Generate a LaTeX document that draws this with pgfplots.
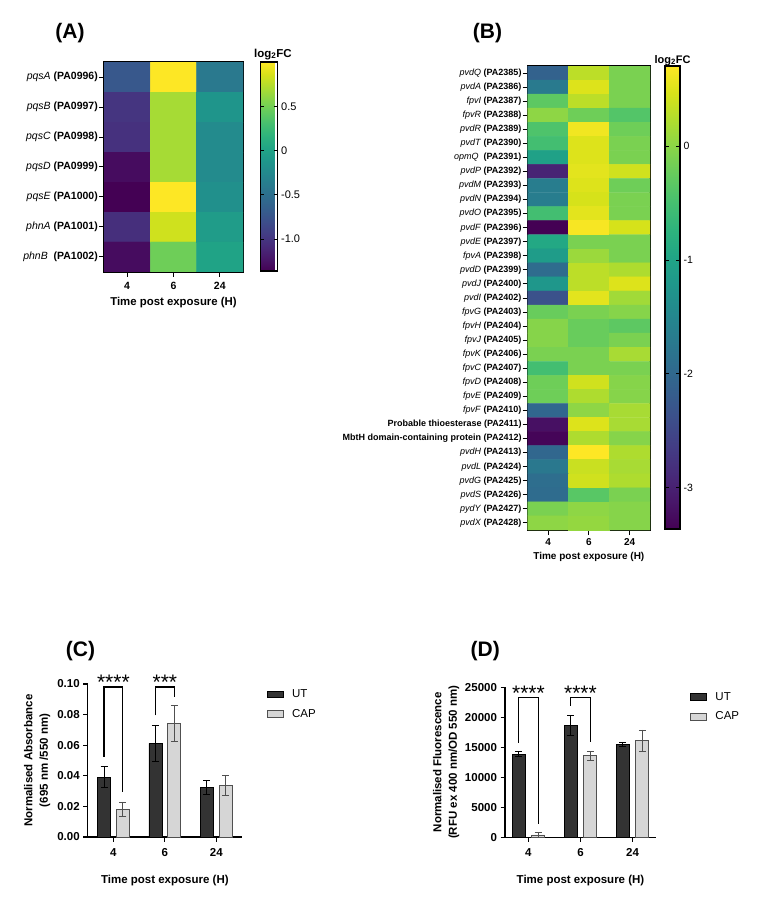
\documentclass[border=0pt]{standalone}
\usepackage{fontspec}
\setmainfont{Liberation Sans}
\usepackage{pgfplots}
\usepackage{pgfplotstable}
\pgfplotsset{compat=1.18}
\definecolor{utcol}{HTML}{333333}
\definecolor{capcol}{HTML}{D6D6D6}
\definecolor{capedge}{HTML}{505050}

\pgfplotstableread{
x y v
0 0 -0.72
1 0 1.00
2 0 -0.41
0 1 -1.00
1 1 0.69
2 1 -0.13
0 2 -1.03
1 2 0.69
2 2 -0.23
0 3 -1.29
1 3 0.69
2 3 -0.23
0 4 -1.36
1 4 1.00
2 4 -0.18
0 5 -1.05
1 5 0.83
2 5 -0.06
0 6 -1.29
1 6 0.48
2 6 0.01
}\heatA

\pgfplotstableread{
x y v
0 0 -2.10
1 0 0.30
2 0 -0.11
0 1 -1.70
1 1 0.50
2 1 -0.11
0 2 -0.31
1 2 0.30
2 2 -0.11
0 3 0.02
1 3 -0.19
2 3 -0.39
0 4 -0.43
1 4 0.63
2 4 -0.19
0 5 -0.52
1 5 0.50
2 5 -0.11
0 6 -1.04
1 6 0.50
2 6 -0.11
0 7 -2.96
1 7 0.54
2 7 0.42
0 8 -1.66
1 8 0.50
2 8 -0.19
0 9 -1.66
1 9 0.46
2 9 -0.11
0 10 -0.52
1 10 0.54
2 10 -0.11
0 11 -3.37
1 11 0.67
2 11 0.46
0 12 -0.92
1 12 -0.11
2 12 -0.11
0 13 -1.13
1 13 0.10
2 13 -0.11
0 14 -1.94
1 14 0.30
2 14 0.22
0 15 -1.21
1 15 0.30
2 15 0.50
0 16 -2.35
1 16 0.54
2 16 0.14
0 17 -0.23
1 17 -0.11
2 17 -0.03
0 18 -0.03
1 18 -0.23
2 18 -0.31
0 19 -0.03
1 19 -0.23
2 19 -0.11
0 20 -0.11
1 20 -0.11
2 20 0.18
0 21 -0.52
1 21 -0.11
2 21 -0.11
0 22 -0.19
1 22 0.42
2 22 -0.03
0 23 -0.19
1 23 0.22
2 23 -0.03
0 24 -2.02
1 24 0.02
2 24 0.18
0 25 -3.20
1 25 0.50
2 25 0.18
0 26 -3.32
1 26 0.22
2 26 -0.03
0 27 -2.02
1 27 0.71
2 27 0.22
0 28 -1.74
1 28 0.38
2 28 0.18
0 29 -1.90
1 29 0.42
2 29 0.22
0 30 -1.94
1 30 -0.35
2 30 -0.11
0 31 -0.11
1 31 0.02
2 31 -0.03
0 32 0.02
1 32 0.06
2 32 -0.03
}\heatB

\pgfplotstableread{
x UT eUT CAP eCAP
0 0.0392 0.0066 0.0183 0.0046
1 0.0612 0.0120 0.0742 0.0116
2 0.0322 0.0045 0.0338 0.0066
}\dataC

\pgfplotstableread{
x UT eUT CAP eCAP
0 13833 420 390 390
1 18611 1700 13611 720
2 15444 340 16111 1780
}\dataD

\pgfplotsset{
  heat/.style={scale only axis, enlargelimits=false, y dir=reverse,
    colormap/viridis, xmin=-0.5, xmax=2.5,
    xtick={0,1,2}, xticklabels={4,6,24},
    xtick pos=bottom, ytick pos=left, tick align=outside, major tick length=5pt,
    tick style={line width=1pt, black}, axis line style={line width=1.6pt},
    yticklabel style={inner sep=1pt}},
  boxlegend/.style={legend image code/.code={\draw[##1, line width=0.8pt] (0pt,-3.3pt) rectangle (16pt,3.3pt);}},
  bars/.style={scale only axis, ybar, bar width=13pt,
    axis x line*=bottom, axis y line*=left,
    axis line style={line width=1.5pt},
    tick style={line width=1.2pt, black}, tick align=outside, major tick length=4.5pt,
    xtick={0,1,2}, xticklabels={4,6,24},
    /pgf/number format/assume math mode=true,
    tick label style={font=\bfseries\fontsize{11.5}{13}\selectfont},
    xticklabel style={yshift=-3.5pt},
    clip=false,
    xlabel={Time post exposure (H)},
    label style={font=\bfseries\fontsize{11.5}{15.5}\selectfont, align=center},
    legend style={draw=none, fill=none, inner sep=0pt, row sep=7pt, column sep=7pt,
      font=\fontsize{11.5}{13}\selectfont, nodes={inner sep=1.5pt}},
    legend cell align=left},
}

\begin{document}
\begin{tikzpicture}[x=1pt,y=1pt]
\path[use as bounding box] (0pt,0pt) rectangle (762pt,900pt);

% ---------------- (A) ----------------
\begin{axis}[heat, at={(104pt,628pt)}, anchor=south west, width=139pt, height=210pt,
  ymin=-0.5, ymax=6.5, ytick={0,...,6},
  yticklabels={{\textit{pqsA} \textbf{(PA0996)}},{\textit{pqsB} \textbf{(PA0997)}},{\textit{pqsC} \textbf{(PA0998)}},{\textit{pqsD} \textbf{(PA0999)}},{\textit{pqsE} \textbf{(PA1000)}},{\textit{phnA} \textbf{(PA1001)}},{\textit{phnB}\ \ \textbf{(PA1002)}}},
  yticklabel style={font=\fontsize{10.5}{12}\selectfont},
  xticklabel style={font=\bfseries\fontsize{10.5}{12}\selectfont, yshift=-2pt},
  xlabel={Time post exposure (H)},
  xlabel style={font=\bfseries\fontsize{11.4}{13}\selectfont, at={(axis description cs:0.5,-0.146)}, anchor=center},
  point meta min=-1.36, point meta max=1.0,
  colorbar, colorbar shift/.style={xshift=17.3pt},
  colorbar style={at={(parent axis.north east)}, anchor=north west,
    scale only axis, width=17.3pt, height=209pt,
    ytick={-1,-0.5,0,0.5}, yticklabels={-1.0,-0.5,0,0.5},
    yticklabel pos=right, ytick pos=both, tick align=inside, major tick length=4pt,
    tick style={line width=1pt, black}, axis line style={line width=1.2pt},
    yticklabel style={font=\fontsize{11}{13}\selectfont},
    title={log\textsubscript{2}FC},
    title style={font=\bfseries\fontsize{11.5}{13}\selectfont, xshift=4pt, yshift=-7pt}}
]
\addplot[matrix plot*, mesh/cols=3, point meta=explicit] table[x=x, y=y, meta=v] {\heatA};
\end{axis}
\node[font=\bfseries\fontsize{21}{24}\selectfont] at (70pt,867pt) {(A)};

% ---------------- (B) ----------------
\begin{axis}[heat, at={(527.7pt,370pt)}, anchor=south west, width=122.3pt, height=464pt,
  ymin=-0.5, ymax=32.5, ytick={0,...,32},
  yticklabels={{\textit{pvdQ} \textbf{(PA2385)}},{\textit{pvdA} \textbf{(PA2386)}},{\textit{fpvI} \textbf{(PA2387)}},{\textit{fpvR} \textbf{(PA2388)}},{\textit{pvdR} \textbf{(PA2389)}},{\textit{pvdT} \textbf{(PA2390)}},{\textit{opmQ}\ \ \textbf{(PA2391)}},{\textit{pvdP} \textbf{(PA2392)}},{\textit{pvdM} \textbf{(PA2393)}},{\textit{pvdN} \textbf{(PA2394)}},{\textit{pvdO} \textbf{(PA2395)}},{\textit{pvdF} \textbf{(PA2396)}},{\textit{pvdE} \textbf{(PA2397)}},{\textit{fpvA} \textbf{(PA2398)}},{\textit{pvdD} \textbf{(PA2399)}},{\textit{pvdJ} \textbf{(PA2400)}},{\textit{pvdI} \textbf{(PA2402)}},{\textit{fpvG} \textbf{(PA2403)}},{\textit{fpvH} \textbf{(PA2404)}},{\textit{fpvJ} \textbf{(PA2405)}},{\textit{fpvK} \textbf{(PA2406)}},{\textit{fpvC} \textbf{(PA2407)}},{\textit{fpvD} \textbf{(PA2408)}},{\textit{fpvE} \textbf{(PA2409)}},{\textit{fpvF} \textbf{(PA2410)}},{\textbf{Probable thioesterase (PA2411)}},{\textbf{MbtH domain-containing protein (PA2412)}},{\textit{pvdH} \textbf{(PA2413)}},{\textit{pvdL} \textbf{(PA2424)}},{\textit{pvdG} \textbf{(PA2425)}},{\textit{pvdS} \textbf{(PA2426)}},{\textit{pydY} \textbf{(PA2427)}},{\textit{pvdX} \textbf{(PA2428)}}},
  yticklabel style={font=\fontsize{9}{10}\selectfont},
  xticklabel style={font=\bfseries\fontsize{10}{12}\selectfont},
  xlabel={Time post exposure (H)},
  xlabel style={font=\bfseries\fontsize{10}{12}\selectfont, at={(axis description cs:0.5,-0.0575)}, anchor=center},
  point meta min=-3.365, point meta max=0.707,
  colorbar, colorbar shift/.style={xshift=15pt},
  colorbar style={at={(parent axis.north east)}, anchor=north west,
    scale only axis, width=15pt, height=463pt,
    ytick={-3,-2,-1,0}, yticklabels={-3,-2,-1,0},
    yticklabel pos=right, ytick pos=both, tick align=inside, major tick length=4pt,
    tick style={line width=1pt, black}, axis line style={line width=1.2pt},
    yticklabel style={font=\fontsize{10.5}{12}\selectfont},
    title={log\textsubscript{2}FC},
    title style={font=\bfseries\fontsize{11}{13}\selectfont, yshift=-9pt}}
]
\addplot[matrix plot*, mesh/cols=3, point meta=explicit] table[x=x, y=y, meta=v] {\heatB};
\end{axis}
\node[font=\bfseries\fontsize{21}{24}\selectfont] at (487.5pt,867pt) {(B)};

% ---------------- (C) ----------------
\begin{axis}[bars, at={(87.7pt,63pt)}, anchor=south west, width=154.3pt, height=153pt,
  ybar=5.8pt, xmin=-0.5, xmax=2.5, ymin=0, ymax=0.1,
  ytick={0,0.02,0.04,0.06,0.08,0.10},
  yticklabel style={/pgf/number format/.cd, fixed, fixed zerofill, precision=2},
  ylabel={Normalised Absorbance\\(695 nm /550 nm)},
  ylabel style={at={(axis description cs:-0.327,0.5)}, anchor=center},
  xlabel style={at={(axis description cs:0.5,-0.285)}, anchor=center},
  legend style={at={(axis description cs:1.16,0.974)}, anchor=north west}
]
\addplot[fill=utcol, draw=black, line width=0.8pt, boxlegend,
  error bars/.cd, y dir=both, y explicit,
  error bar style={line width=0.9pt, black},
  error mark options={rotate=90, mark size=3.5pt, line width=0.9pt, black}]
  table[x=x, y=UT, y error=eUT] {\dataC};
\addplot[fill=capcol, draw=capedge, line width=0.8pt, boxlegend,
  error bars/.cd, y dir=both, y explicit,
  error bar style={line width=0.9pt, capedge},
  error mark options={rotate=90, mark size=3.5pt, line width=0.9pt, capedge}]
  table[x=x, y=CAP, y error=eCAP] {\dataC};
\legend{UT,CAP}
\draw[line width=1.3pt] (axis cs:-0.183,0.0525) |- (axis cs:0.183,0.098) -- (axis cs:0.183,0.0294);
\draw[line width=1.3pt] (axis cs:0.817,0.0795) |- (axis cs:1.183,0.098) -- (axis cs:1.183,0.0917);
\node[font=\fontsize{21}{21}\selectfont, anchor=base] at (axis cs:0,0.0962) {****};
\node[font=\fontsize{21}{21}\selectfont, anchor=base] at (axis cs:1,0.0962) {***};
\end{axis}
\node[font=\bfseries\fontsize{21}{24}\selectfont] at (80.5pt,249pt) {(C)};

% ---------------- (D) ----------------
\begin{axis}[bars, at={(505pt,62.7pt)}, anchor=south west, width=151pt, height=150pt,
  ybar=6.5pt, xmin=-0.45, xmax=2.45, ymin=0, ymax=25000,
  ytick={0,5000,10000,15000,20000,25000}, scaled y ticks=false,
  yticklabel style={/pgf/number format/.cd, fixed, set thousands separator={}},
  ylabel={Normalised Fluorescence\\(RFU ex 400 nm/OD 550 nm)},
  ylabel style={at={(axis description cs:-0.389,0.5)}, anchor=center},
  xlabel style={at={(axis description cs:0.5,-0.29)}, anchor=center},
  legend style={at={(axis description cs:1.225,0.977)}, anchor=north west}
]
\addplot[fill=utcol, draw=black, line width=0.8pt, boxlegend,
  error bars/.cd, y dir=both, y explicit,
  error bar style={line width=0.9pt, black},
  error mark options={rotate=90, mark size=3.5pt, line width=0.9pt, black}]
  table[x=x, y=UT, y error=eUT] {\dataD};
\addplot[fill=capcol, draw=capedge, line width=0.8pt, boxlegend,
  error bars/.cd, y dir=both, y explicit,
  error bar style={line width=0.9pt, capedge},
  error mark options={rotate=90, mark size=3.5pt, line width=0.9pt, capedge}]
  table[x=x, y=CAP, y error=eCAP] {\dataD};
\legend{UT,CAP}
\draw[line width=1.3pt] (axis cs:-0.187,15780) |- (axis cs:0.187,23333) -- (axis cs:0.187,2222);
\draw[line width=1.3pt] (axis cs:0.813,21890) |- (axis cs:1.187,23333) -- (axis cs:1.187,15830);
\node[font=\fontsize{21}{21}\selectfont, anchor=base] at (axis cs:0,22800) {****};
\node[font=\fontsize{21}{21}\selectfont, anchor=base] at (axis cs:1,22800) {****};
\end{axis}
\node[font=\bfseries\fontsize{21}{24}\selectfont] at (485.3pt,249pt) {(D)};

\end{tikzpicture}
\end{document}
